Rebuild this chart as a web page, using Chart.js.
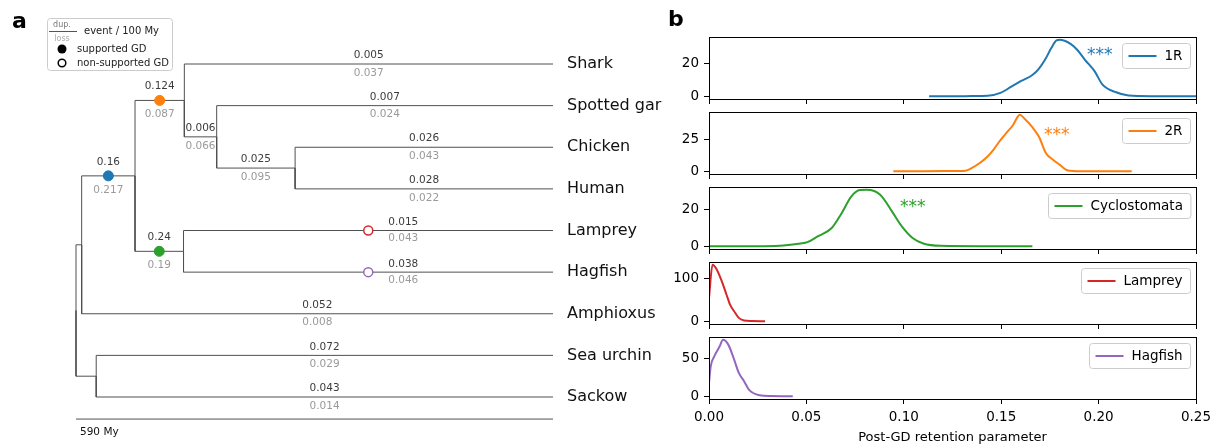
<!DOCTYPE html>
<html>
<head>
<meta charset="utf-8">
<script src="https://cdn.jsdelivr.net/npm/chart.js@4.4.1/dist/chart.umd.min.js"></script>
<style>
    html, body { margin: 0; padding: 0; background: #fff; }
    #wrap { position: relative; width: 1221px; height: 447px; overflow: hidden; }
    canvas { position: absolute; }
</style>
</head>
<body>
<div id="wrap">
    <canvas id="tree" width="1221" height="447" style="left:0;top:0"></canvas>
</div>
<script>
// ---- panel a: species tree ----
const TIPS = ['Shark', 'Spotted gar', 'Chicken', 'Human', 'Lamprey', 'Hagfish', 'Amphioxus', 'Sea urchin', 'Sackow'];
const TIP_PARENT = ['gnathostomes', 'bony fish', 'tetrapods', 'tetrapods', 'cyclostomes', 'cyclostomes', 'chordates', 'ambulacraria', 'ambulacraria'];
const CLADES = ['root', 'chordates', 'ambulacraria', 'vertebrates', 'gnathostomes', 'bony fish', 'tetrapods', 'cyclostomes'];
const CLADE_PARENT = [null, 'root', 'root', 'chordates', 'vertebrates', 'gnathostomes', 'bony fish', 'vertebrates'];
const CLADE_AGE = [0, 7, 25, 73, 134, 174, 271, 133]; // My after the root
const TREE_DEPTH = 590;
const SCALE_LABEL = '590 My';

// duplication / loss rates per branch (event / 100 My)
const RATE_BRANCHES = ['vertebrates', 'gnathostomes', 'bony fish', 'tetrapods', 'cyclostomes',
    'Shark', 'Spotted gar', 'Chicken', 'Human', 'Lamprey', 'Hagfish', 'Amphioxus', 'Sea urchin', 'Sackow'];
const DUP_RATES = ['0.16', '0.124', '0.006', '0.025', '0.24',
    '0.005', '0.007', '0.026', '0.028', '0.015', '0.038', '0.052', '0.072', '0.043'];
const LOSS_RATES = ['0.217', '0.087', '0.066', '0.095', '0.19',
    '0.037', '0.024', '0.043', '0.022', '0.043', '0.046', '0.008', '0.029', '0.014'];

// genome duplication events
const GD_BRANCHES = ['vertebrates', 'gnathostomes', 'cyclostomes', 'Lamprey', 'Hagfish'];
const GD_SUPPORTED = [true, true, true, false, false];
const GD_COLORS = ['#1f77b4', '#ff7f0e', '#2ca02c', '#d62728', '#9467bd'];

// ---- panel b: retention parameter densities ----
const SERIES_NAMES = ['1R', '2R', 'Cyclostomata', 'Lamprey', 'Hagfish'];
const R1_X = [0.113, 0.125, 0.135, 0.143, 0.1496, 0.155, 0.160, 0.166, 0.1694, 0.173, 0.1757, 0.1784, 0.180, 0.1856, 0.189, 0.193, 0.198, 0.202, 0.209, 0.2154, 0.227, 0.25];
const R1_Y = [0, 0, 0.05, 0.2, 2, 5.7, 9.2, 13, 17, 23.5, 29.6, 34.3, 34.7, 32.2, 28.6, 22.4, 15.3, 7.1, 2.4, 0.4, 0, 0];
const R2_X = [0.0946, 0.11, 0.125, 0.1316, 0.135, 0.139, 0.143, 0.146, 0.1496, 0.153, 0.156, 0.1586, 0.1595, 0.162, 0.166, 0.1694, 0.173, 0.1766, 0.180, 0.1838, 0.191, 0.217];
const R2_Y = [0, 0, 0.1, 0.4, 2.6, 6.5, 11.7, 17, 24.7, 31, 36.5, 43.5, 44.8, 41.7, 35, 27.3, 14.3, 9.1, 5.2, 0.8, 0, 0];
const CYC_X = [0, 0.02, 0.034, 0.047, 0.0505, 0.056, 0.063, 0.068, 0.073, 0.0775, 0.081, 0.088, 0.094, 0.099, 0.1045, 0.110, 0.119, 0.14, 0.166];
const CYC_Y = [0, 0, 0.1, 1.5, 2.2, 5.5, 10, 18, 27.3, 30.9, 31, 28.2, 19, 10.9, 4.5, 1.5, 0.2, 0, 0];
const LAM_X = [0, 0.0018, 0.0036, 0.0063, 0.009, 0.0108, 0.0135, 0.0153, 0.018, 0.022, 0.0288];
const LAM_Y = [54, 131, 123, 96, 61.5, 38.5, 19, 7.7, 1.5, 0.3, 0];
const HAG_X = [0, 0.0009, 0.0027, 0.0054, 0.0072, 0.0099, 0.0126, 0.0153, 0.018, 0.0207, 0.026, 0.032, 0.043];
const HAG_Y = [17.7, 40, 53, 66, 75, 68.6, 51, 31, 20, 8, 1.3, 0.3, 0];

const SERIES_X = [R1_X, R2_X, CYC_X, LAM_X, HAG_X];
const SERIES_Y = [R1_Y, R2_Y, CYC_Y, LAM_Y, HAG_Y];
const SERIES_COLORS = ['#1f77b4', '#ff7f0e', '#2ca02c', '#d62728', '#9467bd'];
const Y_TICKS = [[0, 20], [0, 25], [0, 20], [0, 100], [0, 50]];
const X_TICKS = [0, 0.05, 0.10, 0.15, 0.20, 0.25];
const X_LABEL = 'Post-GD retention parameter';
const STAR_TEXT = '***';
const STAR_X = [0.194, 0.172, 0.098, null, null];
const STAR_Y = [22.3, 25, 18.9, null, null];

const FONT = '"DejaVu Sans", sans-serif';
Chart.defaults.font.family = FONT;
Chart.defaults.color = '#000';

// tree layout: depth from ages, rows from tips
const depth = {};
const parent = {};
const children = {};
CLADES.forEach((c, i) => { depth[c] = CLADE_AGE[i]; parent[c] = CLADE_PARENT[i]; });
TIPS.forEach((t, i) => { depth[t] = TREE_DEPTH; parent[t] = TIP_PARENT[i]; });
Object.keys(parent).forEach(n => {
    if (parent[n]) (children[parent[n]] = children[parent[n]] || []).push(n);
});
const row = {};
function placeRow(n) {
    if (TIPS.includes(n)) return (row[n] = TIPS.indexOf(n));
    const r = children[n].map(placeRow);
    return (row[n] = (Math.min(...r) + Math.max(...r)) / 2);
}
placeRow('root');
const barRow = TIPS.length - 1 + 0.53;

const branchSets = Object.keys(parent).filter(n => parent[n]).map(n => ({
    type: 'line',
    data: [
        { x: depth[parent[n]], y: row[parent[n]] },
        { x: depth[parent[n]], y: row[n] },
        { x: depth[n], y: row[n] },
    ],
    borderColor: '#505050',
    borderWidth: 1,
    pointRadius: 0,
    fill: false,
    clip: false,
}));

const markerSet = {
    type: 'scatter',
    data: GD_BRANCHES.map(b => ({ x: (depth[parent[b]] + depth[b]) / 2, y: row[b] })),
    pointRadius: GD_SUPPORTED.map(s => s ? 5 : 4.5),
    pointBackgroundColor: GD_SUPPORTED.map((s, i) => s ? GD_COLORS[i] : '#fff'),
    pointBorderColor: GD_COLORS,
    pointBorderWidth: GD_SUPPORTED.map(s => s ? 1 : 1.5),
    clip: false,
};

const scaleBarSet = {
    type: 'line',
    data: [{ x: 0, y: barRow }, { x: TREE_DEPTH, y: barRow }],
    borderColor: '#505050',
    borderWidth: 1,
    pointRadius: 0,
    clip: false,
};

function roundRect(ctx, x, y, w, h, r) {
    ctx.beginPath();
    ctx.moveTo(x + r, y);
    ctx.arcTo(x + w, y, x + w, y + h, r);
    ctx.arcTo(x + w, y + h, x, y + h, r);
    ctx.arcTo(x, y + h, x, y, r);
    ctx.arcTo(x, y, x + w, y, r);
    ctx.closePath();
}

const treeText = {
    id: 'treeText',
    afterDatasetsDraw(chart) {
        const { ctx, scales: { x, y } } = chart;
        ctx.save();
        ctx.textBaseline = 'middle';

        // panel letters
        ctx.fillStyle = '#000';
        ctx.textAlign = 'left';
        ctx.font = 'bold 22px ' + FONT;
        ctx.fillText('a', 12, 22);
        ctx.fillText('b', 668, 20);

        // legend
        roundRect(ctx, 47.5, 18.5, 125, 52, 3);
        ctx.fillStyle = 'rgba(255,255,255,0.9)';
        ctx.fill();
        ctx.strokeStyle = '#ccc';
        ctx.lineWidth = 1;
        ctx.stroke();
        ctx.textAlign = 'center';
        ctx.font = '8px ' + FONT;
        ctx.fillStyle = '#777';
        ctx.fillText('dup.', 62, 25);
        ctx.fillStyle = '#aaa';
        ctx.fillText('loss', 62, 38.5);
        ctx.strokeStyle = '#555';
        ctx.beginPath();
        ctx.moveTo(49, 31.5);
        ctx.lineTo(77, 31.5);
        ctx.stroke();
        ctx.textAlign = 'left';
        ctx.font = '10px ' + FONT;
        ctx.fillStyle = '#222';
        ctx.fillText('event / 100 My', 84, 31);
        ctx.fillText('supported GD', 77, 49);
        ctx.fillText('non-supported GD', 77, 63);
        ctx.fillStyle = '#000';
        ctx.beginPath();
        ctx.arc(62, 49, 4.5, 0, Math.PI * 2);
        ctx.fill();
        ctx.strokeStyle = '#000';
        ctx.lineWidth = 1.5;
        ctx.beginPath();
        ctx.arc(62, 63, 3.8, 0, Math.PI * 2);
        ctx.stroke();

        // branch rates
        ctx.font = '10.5px ' + FONT;
        ctx.textAlign = 'center';
        RATE_BRANCHES.forEach((b, i) => {
            const gd = GD_BRANCHES.indexOf(b);
            let cx = x.getPixelForValue((depth[parent[b]] + depth[b]) / 2);
            const cy = y.getPixelForValue(row[b]);
            let up = 8.5, down = 9;
            if (gd >= 0 && GD_SUPPORTED[gd]) { up = 14; down = 14; }
            else if (gd >= 0) { cx += 35; up = 8; down = 8; }
            ctx.fillStyle = '#3c3c3c';
            ctx.fillText(DUP_RATES[i], cx, cy - up);
            ctx.fillStyle = '#9a9a9a';
            ctx.fillText(LOSS_RATES[i], cx, cy + down);
        });

        // tip names
        ctx.textAlign = 'left';
        ctx.font = '16px ' + FONT;
        ctx.fillStyle = '#111';
        TIPS.forEach((t, i) => ctx.fillText(t, x.getPixelForValue(TREE_DEPTH) + 14, y.getPixelForValue(i)));

        // scale bar label
        ctx.font = '10.5px ' + FONT;
        ctx.fillText(SCALE_LABEL, x.getPixelForValue(0) + 4, y.getPixelForValue(barRow) + 13);
        ctx.restore();
    },
};

new Chart(document.getElementById('tree'), {
    type: 'line',
    data: { datasets: [markerSet, ...branchSets, scaleBarSet] },
    options: {
        responsive: false,
        animation: false,
        events: [],
        layout: { padding: { left: 76, right: 668, top: 64, bottom: 50 } },
        scales: {
            x: { type: 'linear', min: 0, max: TREE_DEPTH, display: false },
            y: { type: 'linear', min: 0, max: TIPS.length - 1, reverse: true, display: false },
        },
        plugins: { legend: { display: false }, tooltip: { enabled: false } },
    },
    plugins: [treeText],
});

// ---- panel b charts ----
const axesBox = {
    id: 'axesBox',
    afterDraw(chart) {
        const { ctx, chartArea: a } = chart;
        ctx.save();
        ctx.strokeStyle = '#000';
        ctx.lineWidth = 1;
        ctx.strokeRect(Math.round(a.left) + 0.5, Math.round(a.top) + 0.5,
            Math.round(a.right - a.left), Math.round(a.bottom - a.top));
        ctx.restore();
    },
};

const boxLegend = {
    id: 'boxLegend',
    afterDraw(chart) {
        const { ctx, chartArea: a } = chart;
        const ds = chart.data.datasets[0];
        ctx.save();
        ctx.font = '13.5px ' + FONT;
        const tw = ctx.measureText(ds.label).width;
        const w = 7 + 28 + 8 + tw + 7;
        const h = 25;
        const bx = Math.round(a.right - 6 - w) + 0.5;
        const by = Math.round(a.top + 6) + 0.5;
        roundRect(ctx, bx, by, w, h, 3);
        ctx.fillStyle = 'rgba(255,255,255,0.8)';
        ctx.fill();
        ctx.strokeStyle = '#ccc';
        ctx.lineWidth = 1;
        ctx.stroke();
        ctx.strokeStyle = ds.borderColor;
        ctx.lineWidth = 2;
        ctx.beginPath();
        ctx.moveTo(bx + 6, by + h / 2);
        ctx.lineTo(bx + 34, by + h / 2);
        ctx.stroke();
        ctx.fillStyle = '#000';
        ctx.textBaseline = 'middle';
        ctx.fillText(ds.label, bx + 42, by + h / 2);
        ctx.restore();
    },
};

const stars = {
    id: 'stars',
    afterDatasetsDraw(chart, args, opts) {
        if (opts.x == null) return;
        const { ctx, scales } = chart;
        ctx.save();
        ctx.font = '17px ' + FONT;
        ctx.fillStyle = opts.color;
        ctx.textBaseline = 'alphabetic';
        ctx.fillText(STAR_TEXT, scales.x.getPixelForValue(opts.x), scales.y.getPixelForValue(opts.y));
        ctx.restore();
    },
};

// keep the plot box fixed: no extra room for half tick labels
function noPad(s) {
    s.paddingTop = 0;
    s.paddingBottom = 0;
    s.paddingLeft = 0;
    s.paddingRight = 0;
}

const wrap = document.getElementById('wrap');
SERIES_NAMES.forEach((name, i) => {
    const isLast = i === SERIES_NAMES.length - 1;
    const canvas = document.createElement('canvas');
    canvas.width = 561;
    canvas.height = isLast ? 117 : 75;
    canvas.style.left = '660px';
    canvas.style.top = (30 + 75 * i) + 'px';
    wrap.appendChild(canvas);

    const ys = SERIES_Y[i];
    const peak = Math.max(...ys);

    new Chart(canvas, {
        type: 'line',
        data: {
            datasets: [{
                label: name,
                data: SERIES_X[i].map((x, k) => ({ x, y: ys[k] })),
                borderColor: SERIES_COLORS[i],
                borderWidth: 2,
                pointRadius: 0,
                fill: false,
                cubicInterpolationMode: 'monotone',
            }],
        },
        options: {
            responsive: false,
            animation: false,
            events: [],
            layout: { padding: { top: 7, right: 25, left: 0, bottom: 0 } },
            scales: {
                x: {
                    type: 'linear',
                    min: 0,
                    max: 0.25,
                    afterBuildTicks: (s) => { s.ticks = X_TICKS.map(v => ({ value: v })); },
                    afterFit: (s) => { s.height = isLast ? 48 : 6; noPad(s); },
                    border: { display: false },
                    grid: { drawOnChartArea: false, drawTicks: true, tickLength: 5, color: '#000' },
                    ticks: {
                        display: isLast,
                        autoSkip: false,
                        maxRotation: 0,
                        padding: 5,
                        font: { size: 13.5 },
                        callback: (v) => v.toFixed(2),
                    },
                    title: {
                        display: isLast,
                        text: X_LABEL,
                        font: { size: 13 },
                        padding: { top: 0, bottom: 2 },
                    },
                },
                y: {
                    type: 'linear',
                    min: -0.05 * peak,
                    max: 1.05 * peak,
                    afterBuildTicks: (s) => { s.ticks = Y_TICKS[i].map(v => ({ value: v })); },
                    afterFit: (s) => { s.width = 49; noPad(s); },
                    border: { display: false },
                    grid: { drawOnChartArea: false, drawTicks: true, tickLength: 5, color: '#000' },
                    ticks: { padding: 5, font: { size: 13.5 }, callback: (v) => v },
                },
            },
            plugins: {
                legend: { display: false },
                tooltip: { enabled: false },
                stars: { x: STAR_X[i], y: STAR_Y[i], color: SERIES_COLORS[i] },
            },
        },
        plugins: [axesBox, boxLegend, stars],
    });
});
</script>
</body>
</html>
